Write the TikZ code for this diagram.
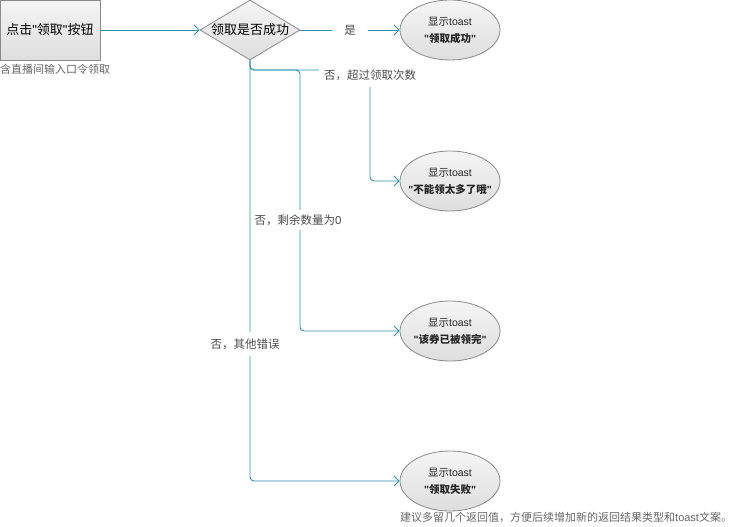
\documentclass[tikz,border=0pt]{standalone}
\usepackage{fontspec}
\setmainfont{Noto Sans CJK SC}
\newfontfamily\latin{Liberation Sans}
\newcommand\qt{{\latin"}}
\usetikzlibrary{shapes.geometric,arrows.meta}
\definecolor{link}{HTML}{2A93AE}
\definecolor{edge}{HTML}{8A8A8A}
\definecolor{note}{HTML}{666666}
\tikzset{
  shade box/.style={draw=edge, line width=0.8pt, top color=white!96!black, bottom color=black!13},
  btn/.style={shade box, rectangle, minimum width=100pt, minimum height=60pt, inner sep=0pt, font=\fontsize{13}{15}\selectfont},
  decide/.style={shade box, diamond, aspect=1.667, minimum width=100pt, minimum height=60pt, inner sep=0pt, font=\fontsize{13}{15}\selectfont},
  toast/.style={shade box, ellipse, minimum width=100pt, minimum height=60pt, inner xsep=-18pt, inner ysep=-6pt, align=center, font=\fontsize{10.5}{17}\selectfont, text=black!85},
  conn/.style={draw=link, line width=0.9pt, rounded corners=4pt, -{Straight Barb[length=5pt,width=10pt,line width=0.9pt]}},
  lbl/.style={fill=white, inner sep=2pt, text=black!70, font=\fontsize{11.5}{13}\selectfont},
  notetext/.style={text=note, inner sep=0pt, font=\fontsize{11}{13}\selectfont, anchor=west},
}
\begin{document}
\begin{tikzpicture}[x=1pt,y=-1pt]
\useasboundingbox (0,0) rectangle (734,527);
\node[btn] (start) at (50,30) {点击\qt 领取\qt 按钮};
\node[notetext] (sub) at (0,69) {含直播间输入口令领取};
\node[decide] (dec) at (250,30) {领取是否成功};
\node[toast] (t1) at (450,30) {显示{\latin toast}\\\textbf{\qt 领取成功\qt}};
\node[toast] (t2) at (450,181) {显示{\latin toast}\\\textbf{\qt 不能领太多了哦\qt}};
\node[toast] (t3) at (450,331) {显示{\latin toast}\\\textbf{\qt 该券已被领完\qt}};
\node[toast] (t4) at (450,481) {显示{\latin toast}\\\textbf{\qt 领取失败\qt}};
\coordinate (c2) at (370,70);
\coordinate (c3) at (300,70);

\draw[conn] (start) -- (dec);
\draw[conn] (dec.east) -- (t1.west);
\draw[conn] (dec.south) |- (c2) |- (t2.west);
\draw[conn] (dec.south) |- (c3) |- (t3.west);
\draw[conn] (dec.south) |- (t4.west);

\node[lbl, inner xsep=12pt] (l1) at (350,30) {是};
\node[lbl, inner xsep=5pt, inner ysep=7pt] (l2) at (370,75) {否，超过领取次数};
\node[lbl, inner ysep=4pt] (l3) at (298,220) {否，剩余数量为{\latin 0}};
\node[lbl, inner ysep=7pt] (l4) at (245,344) {否，其他错误};
\node[notetext] (foot) at (400,517) {建议多留几个返回值，方便后续增加新的返回结果类型和{\latin toast}文案。};
\end{tikzpicture}
\end{document}
